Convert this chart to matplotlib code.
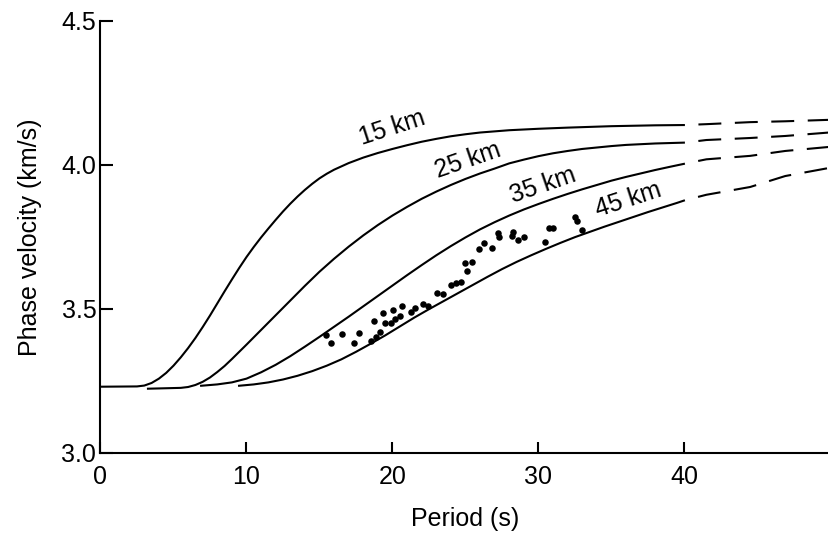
import matplotlib
matplotlib.use("Agg")
import matplotlib.pyplot as plt

plt.rcParams['font.family'] = ['Liberation Sans', 'DejaVu Sans']

# ---- data ----
x15 = [0.0, 2.5, 3.0, 3.5, 4.0, 4.5, 5.0, 5.5, 6.0, 6.5, 7.0, 7.5, 8.0, 8.5, 9.0, 9.5,
       10.0, 10.5, 11.0, 11.5, 12.0, 12.5, 13.0, 13.5, 14.0, 14.5, 15.0, 15.5, 16.0,
       17.0, 18.0, 19.0, 20.0, 21.0, 22.0, 23.0, 24.0, 25.0, 26.0, 28.0, 30.0, 32.0,
       35.0, 38.0, 40.03]
y15 = [3.230, 3.231, 3.234, 3.243, 3.258, 3.278, 3.303, 3.332, 3.364, 3.399, 3.437,
       3.477, 3.519, 3.561, 3.602, 3.642, 3.680, 3.715, 3.748, 3.779, 3.809, 3.838,
       3.865, 3.890, 3.913, 3.934, 3.953, 3.969, 3.983, 4.006, 4.025, 4.041, 4.055,
       4.068, 4.080, 4.090, 4.099, 4.106, 4.112, 4.120, 4.125, 4.129, 4.134, 4.137, 4.138]

x25 = [3.18, 5.5, 6.0, 6.5, 7.0, 7.5, 8.0, 8.5, 9.0, 9.5, 10.0, 11.0, 12.0, 13.0, 14.0,
       15.0, 16.0, 17.0, 18.0, 19.0, 20.0, 21.0, 22.0, 23.0, 24.0, 25.0, 26.0, 27.0,
       28.0, 29.0, 30.0, 31.0, 32.0, 33.0, 34.0, 35.0, 36.0, 38.0, 40.03]
y25 = [3.223, 3.226, 3.229, 3.236, 3.247, 3.262, 3.281, 3.302, 3.326, 3.351, 3.376,
       3.427, 3.478, 3.529, 3.580, 3.629, 3.674, 3.716, 3.755, 3.791, 3.824, 3.854,
       3.882, 3.907, 3.930, 3.951, 3.970, 3.987, 4.005, 4.018, 4.030, 4.040, 4.048,
       4.055, 4.060, 4.065, 4.069, 4.074, 4.077]

x35 = [6.82, 8.0, 9.0, 10.0, 11.0, 12.0, 13.0, 14.0, 15.0, 16.0, 17.0, 18.0, 19.0, 20.0,
       21.0, 22.0, 23.0, 24.0, 25.0, 26.0, 27.0, 28.0, 29.0, 30.0, 31.0, 32.0, 33.0,
       34.0, 35.0, 36.0, 37.0, 38.0, 39.0, 40.03]
y35 = [3.233, 3.238, 3.245, 3.258, 3.280, 3.306, 3.336, 3.369, 3.403, 3.438, 3.473,
       3.509, 3.545, 3.581, 3.617, 3.652, 3.686, 3.718, 3.748, 3.776, 3.801, 3.824,
       3.845, 3.864, 3.882, 3.899, 3.915, 3.930, 3.945, 3.958, 3.970, 3.982, 3.993, 4.004]

x45 = [9.42, 10.5, 11.5, 12.5, 13.5, 14.5, 15.5, 16.5, 17.5, 18.5, 19.5, 20.5, 21.5,
       22.5, 23.5, 24.5, 25.5, 26.5, 27.5, 28.5, 29.5, 30.5, 31.5, 32.5, 33.5, 34.5,
       35.5, 36.5, 37.5, 38.5, 39.5, 40.03]
y45 = [3.233, 3.238, 3.245, 3.255, 3.268, 3.284, 3.303, 3.325, 3.351, 3.379, 3.408,
       3.439, 3.470, 3.499, 3.527, 3.555, 3.583, 3.611, 3.638, 3.663, 3.686, 3.708,
       3.729, 3.749, 3.767, 3.785, 3.802, 3.819, 3.836, 3.852, 3.868, 3.877]

# dashed extrapolations beyond 40 s
xd = [40.03, 41.5, 44.5, 46.9, 49.9]
yd15 = [4.138, 4.141, 4.148, 4.151, 4.156]
yd25 = [4.077, 4.086, 4.093, 4.100, 4.112]
yd35 = [4.004, 4.019, 4.031, 4.048, 4.062]
yd45 = [3.877, 3.896, 3.923, 3.961, 3.989]

# observed phase velocities
obs_period = [15.45, 15.79, 16.54, 17.71, 17.36, 18.53, 18.87, 19.14, 18.73, 19.35,
              19.48, 19.9, 20.03, 20.17, 20.65, 20.51, 21.27, 21.54, 22.09, 22.43,
              23.05, 23.46, 24.0, 24.35, 24.69, 24.97, 25.45, 25.1, 25.92, 26.27,
              26.82, 27.23, 27.29, 28.18, 28.25, 28.6, 29.01, 30.45, 30.72, 30.99,
              32.5, 32.64, 32.98]
obs_vel = [3.410, 3.382, 3.414, 3.417, 3.382, 3.389, 3.403, 3.421, 3.459, 3.487,
           3.452, 3.452, 3.497, 3.466, 3.511, 3.476, 3.490, 3.504, 3.518, 3.511,
           3.556, 3.552, 3.583, 3.590, 3.594, 3.660, 3.663, 3.632, 3.708, 3.729,
           3.711, 3.763, 3.749, 3.753, 3.767, 3.739, 3.749, 3.732, 3.781, 3.781,
           3.819, 3.805, 3.774]

labels = ["15 km", "25 km", "35 km", "45 km"]
label_x = [19.96, 25.17, 30.3, 36.13]
label_y = [4.128, 4.014, 3.930, 3.878]
label_rot = [18, 19, 19, 18]

xticks = [0, 10, 20, 30, 40]
xticklabels = ["0", "10", "20", "30", "40"]
yticks = [3.0, 3.5, 4.0, 4.5]
yticklabels = ["3.0", "3.5", "4.0", "4.5"]

# ---- figure ----
W, H = 829, 536
fig = plt.figure(figsize=(W / 100, H / 100), dpi=100)
ax = fig.add_axes([100.5 / W, (H - 453) / H, (W - 100.5) / W, (453 - 20.7) / H])

lw = 1.5
for xs, ys in [(x15, y15), (x25, y25), (x35, y35), (x45, y45)]:
    ax.plot(xs, ys, color='black', lw=lw, solid_capstyle='butt',
            solid_joinstyle='round')
for ys in [yd15, yd25, yd35, yd45]:
    ax.plot(xd, ys, color='black', lw=lw, linestyle=(11.0, (11.0, 6.5)),
            dash_capstyle='butt')

ax.scatter(obs_period, obs_vel, s=22, color='black', zorder=3, linewidths=0)

for t, lx, ly, r in zip(labels, label_x, label_y, label_rot):
    ax.text(lx, ly, t, fontsize=18, rotation=r, rotation_mode='anchor',
            ha='center', va='center', color='black')

ax.set_xlim(0, 49.9)
ax.set_ylim(3.0, 4.5)
ax.set_xticks(xticks)
ax.set_xticklabels(xticklabels)
ax.set_yticks(yticks)
ax.set_yticklabels(yticklabels)
ax.tick_params(axis='x', direction='in', length=8, width=1.5, pad=9, labelsize=18)
ax.tick_params(axis='y', direction='in', length=9, width=1.5, pad=3, labelsize=18)

for s in ['top', 'right']:
    ax.spines[s].set_visible(False)
for s in ['left', 'bottom']:
    ax.spines[s].set_linewidth(1.5)

ax.set_xlabel("Period (s)", fontsize=18)
ax.xaxis.label.set_va('center')
ax.xaxis.set_label_coords(0.5, (453 - 519) / (453 - 20.7))
ax.set_ylabel("Phase velocity (km/s)", fontsize=18)
ax.yaxis.label.set_va('center')
ax.yaxis.set_label_coords((30 - 100.5) / (W - 100.5), 0.5)

fig.savefig("out.png", dpi=100)
